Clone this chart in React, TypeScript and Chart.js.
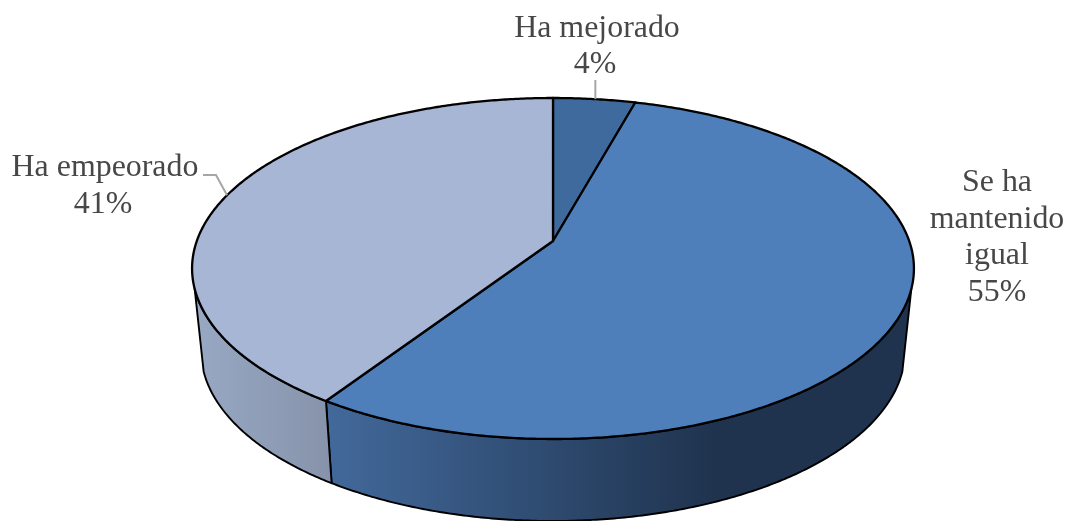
import React, { useEffect, useRef } from "react";
import { Chart, registerables } from "chart.js";

Chart.register(...registerables);

const categories = ["Ha mejorado", "Se ha mantenido igual", "Ha empeorado"];
const shares = [4.3, 55.0, 40.7];
const faceColors = ["#3F6A9E", "#4E7FBB", "#A8B6D6"];
const sideStops = [
  ["#3F6A9E", "#3F6A9E"],
  ["#42699B", "#1F334E"],
  ["#98A9C4", "#8793AB"],
];
const sideRanges = [
  [0, 1],
  [330, 715],
  [192, 330],
];
const labelLines = [["Ha mejorado"], ["Se ha", "mantenido", "igual"], ["Ha empeorado"]];

// Presentation geometry of the tilted disc
const CX = 553;
const APEX_Y = 241;
const PERSP = -55 / 341;
const YK = 127.2;
const XK = 356.2;
const TOP_CY = 268.5;
const TOP_RX = 361;
const TOP_RY = 170.5;
const BOT_CY = 351;
const BOT_RX = 352;
const BOT_RY = 170;
const SILHOUETTE = 0.28;
const FONT = '31.9px "Liberation Serif", "Times New Roman", serif';
const TEXT = "#474747";
const LEAD = "#A6A6A6";
const LINE_H = 36.6;

const face = (u: number, v: number) => {
  const d = PERSP * v + 1;
  return { x: CX + (XK * u) / d, y: (YK * v + APEX_Y) / d };
};
const rim = (a: number) => face(Math.cos(a), Math.sin(a));
const floor = (a: number) => {
  const p = rim(a);
  return {
    x: CX + ((p.x - CX) * BOT_RX) / TOP_RX,
    y: BOT_CY + ((p.y - TOP_CY) * BOT_RY) / TOP_RY,
  };
};

const STEP = Math.PI / 360;
const arcAngles = (a0: number, a1: number) => {
  const n = Math.max(2, Math.ceil((a1 - a0) / STEP));
  const out: number[] = [];
  for (let i = 0; i <= n; i++) out.push(a0 + ((a1 - a0) * i) / n);
  return out;
};

const tiltedPie = {
  id: "tiltedPie",
  beforeDatasetsDraw(chart: any) {
    const ctx: CanvasRenderingContext2D = chart.ctx;
    const arcs = chart.getDatasetMeta(0).data;
    ctx.save();
    ctx.lineJoin = "round";
    ctx.strokeStyle = "#000";

    arcs.forEach((arc: any, i: number) => {
      const lo = Math.max(arc.startAngle, SILHOUETTE);
      const hi = Math.min(arc.endAngle, Math.PI - SILHOUETTE);
      if (hi <= lo) return;
      const angles = arcAngles(lo, hi);
      const g = ctx.createLinearGradient(sideRanges[i][0], 0, sideRanges[i][1], 0);
      g.addColorStop(0, sideStops[i][0]);
      g.addColorStop(1, sideStops[i][1]);
      ctx.beginPath();
      angles.forEach((a, k) => {
        const p = rim(a);
        k ? ctx.lineTo(p.x, p.y) : ctx.moveTo(p.x, p.y);
      });
      [...angles].reverse().forEach((a) => {
        const p = floor(a);
        ctx.lineTo(p.x, p.y);
      });
      ctx.closePath();
      ctx.fillStyle = g;
      ctx.fill();
      ctx.lineWidth = 1.9;
      ctx.stroke();
    });

    arcs.forEach((arc: any, i: number) => {
      ctx.beginPath();
      const c = face(0, 0);
      ctx.moveTo(c.x, c.y);
      arcAngles(arc.startAngle, arc.endAngle).forEach((a) => {
        const p = rim(a);
        ctx.lineTo(p.x, p.y);
      });
      ctx.closePath();
      ctx.fillStyle = faceColors[i];
      ctx.fill();
      ctx.lineWidth = 2.3;
      ctx.stroke();
    });
    ctx.restore();
    return false;
  },
  afterDraw(chart: any) {
    const ctx: CanvasRenderingContext2D = chart.ctx;
    const arcs = chart.getDatasetMeta(0).data;
    const mid = (i: number) => rim((arcs[i].startAngle + arcs[i].endAngle) / 2);
    ctx.save();

    ctx.strokeStyle = LEAD;
    ctx.lineWidth = 2;
    const m0 = mid(0);
    ctx.beginPath();
    ctx.moveTo(m0.x + 1, 80);
    ctx.lineTo(m0.x + 1, m0.y);
    ctx.stroke();
    const m2 = mid(2);
    ctx.beginPath();
    ctx.moveTo(203, 175);
    ctx.lineTo(216, 175);
    ctx.lineTo(m2.x, m2.y);
    ctx.stroke();

    ctx.font = FONT;
    ctx.fillStyle = TEXT;
    ctx.textAlign = "center";
    ctx.textBaseline = "alphabetic";
    const anchors = [
      [597, 36.5],
      [997, 191],
      [105, 176],
    ];
    const pct = (i: number) => {
      const total = shares.reduce((s, v) => s + v, 0);
      return `${Math.round((shares[i] / total) * 100)}%`;
    };
    labelLines.forEach((lines, i) => {
      lines.forEach((t, k) => {
        ctx.fillText(t, anchors[i][0], anchors[i][1] + k * LINE_H);
      });
      ctx.fillText(pct(i), anchors[i][0] - (i === 1 ? 0 : 2), anchors[i][1] + lines.length * LINE_H);
    });
    ctx.restore();
  },
};

export default function App() {
  const ref = useRef<HTMLCanvasElement | null>(null);
  useEffect(() => {
    document.body.style.margin = "0";
    document.body.style.background = "#fff";
    const chart = new Chart(ref.current as HTMLCanvasElement, {
      type: "pie",
      data: {
        labels: categories,
        datasets: [{ data: shares, backgroundColor: faceColors, borderColor: "#000" }],
      },
      options: {
        responsive: false,
        animation: false,
        plugins: { legend: { display: false }, tooltip: { enabled: false } },
      },
      plugins: [tiltedPie],
    } as any);
    return () => chart.destroy();
  }, []);
  return <canvas ref={ref} width={1067} height={521} style={{ display: "block" }} />;
}
